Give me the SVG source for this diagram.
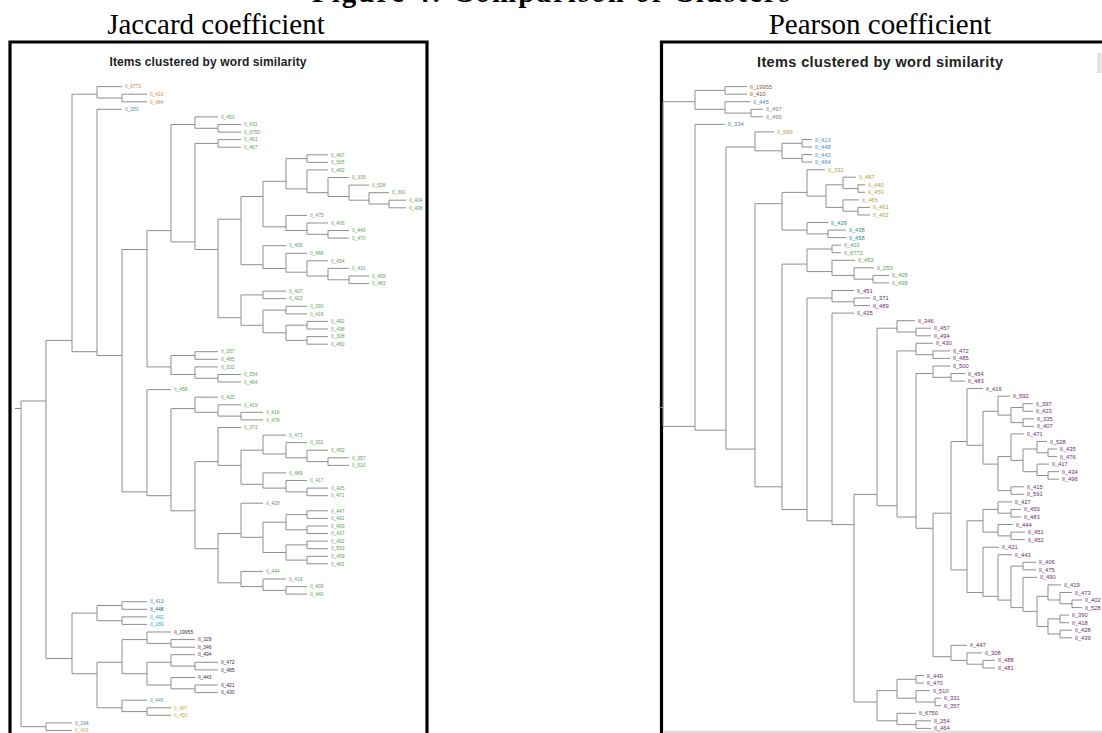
<svg xmlns="http://www.w3.org/2000/svg" width="1102" height="733" viewBox="0 0 1102 733">
<style>
.fig{font-family:"Liberation Serif","Times New Roman",serif;font-size:29px;font-weight:bold;fill:#000}
.cap{font-family:"Liberation Serif","Times New Roman",serif;font-size:29px;fill:#000}
.frame{fill:none;stroke:#000;stroke-width:3.2}
.ttl{font-family:"Liberation Sans",Arial,sans-serif;font-weight:bold;fill:#222}
.ln{fill:none;stroke:#8e8e8e;stroke-width:1}
.lb{font-family:"Liberation Sans",Arial,sans-serif;font-size:5px}
.lr{font-family:"Liberation Sans",Arial,sans-serif;font-size:5.8px}
.or{fill:#c8874e}.te{fill:#3f9aa5}.gr{fill:#66a05f}.bl{fill:#3d7fc0}.nv{fill:#2f4f80}.cy{fill:#34a7d6}
.pu{fill:#4b2350}.lbu{fill:#7090c0}.ye{fill:#c9a846}
.rr{fill:#b0503c}.br{fill:#8c4434}.sb{fill:#3f93d0}.gp{fill:#8a7a9a}.bg2{fill:#5a7fae}.oc{fill:#b8a043}
.tl{fill:#2a8f8f}.gn{fill:#62a05a}.pp{fill:#6e2a6e}
</style>
<rect width="1102" height="733" fill="#fff"/>

<!-- clipped figure heading at the very top edge -->
<text class="fig" x="551" y="1.5" text-anchor="middle" textLength="478">Figure 4: Comparison of Clusters</text>
<text class="cap" x="216" y="34" text-anchor="middle">Jaccard coefficient</text>
<text class="cap" x="880" y="34" text-anchor="middle">Pearson coefficient</text>

<!-- panel frames -->
<path class="frame" d="M10,733V42H427V733"/>
<path class="frame" d="M661.5,733V42H1102"/>
<rect x="663" y="730.5" width="439" height="2.5" fill="#e2e2e2"/>
<rect x="1097" y="53" width="5" height="20" fill="#e4e4e4"/>

<text class="ttl" x="208" y="66" text-anchor="middle" font-size="12" textLength="197">Items clustered by word similarity</text>
<text class="ttl" x="880" y="67" text-anchor="middle" font-size="14.5" textLength="246">Items clustered by word similarity</text>

<!-- Jaccard dendrogram links -->
<g id="jaccard-links" class="ln">
<path d="M15,408.5H21"/>
<path d="M46,401.0H21V726.7H46"/>
<path d="M72,722.9H46V730.5H72"/>
<path d="M72,340.4H46V658.5H72"/>
<path d="M97,94.2H72V351.7H97"/>
<path d="M122,86.6H97V98.0H122"/>
<path d="M147,94.2H122V101.8H147"/>
<path d="M122,109.3H97V355.5H122"/>
<path d="M147,249.5H122V491.9H147"/>
<path d="M171,230.6H147V366.9H171"/>
<path d="M195,124.5H171V241.9H195"/>
<path d="M218,116.9H195V128.3H218"/>
<path d="M241,124.5H218V132.1H241"/>
<path d="M218,143.4H195V249.5H218"/>
<path d="M241,139.6H218V147.2H241"/>
<path d="M241,219.2H218V317.7H241"/>
<path d="M263,196.5H241V264.7H263"/>
<path d="M286,181.3H263V226.8H286"/>
<path d="M307,158.6H286V188.9H307"/>
<path d="M328,154.8H307V162.4H328"/>
<path d="M328,169.9H307V192.7H328"/>
<path d="M349,177.5H328V196.5H349"/>
<path d="M369,185.1H349V200.2H369"/>
<path d="M389,192.7H369V204.0H389"/>
<path d="M406,200.2H389V207.8H406"/>
<path d="M307,215.4H286V230.5H307"/>
<path d="M328,223.0H307V234.3H328"/>
<path d="M349,230.5H328V238.1H349"/>
<path d="M286,245.7H263V268.5H286"/>
<path d="M307,253.3H286V272.2H307"/>
<path d="M328,260.8H307V276.0H328"/>
<path d="M349,268.4H328V279.8H349"/>
<path d="M369,276.0H349V283.6H369"/>
<path d="M263,294.9H241V325.3H263"/>
<path d="M286,291.1H263V298.7H286"/>
<path d="M286,310.1H263V332.8H286"/>
<path d="M307,306.3H286V313.9H307"/>
<path d="M307,325.2H286V340.4H307"/>
<path d="M328,321.4H307V329.0H328"/>
<path d="M328,336.6H307V344.2H328"/>
<path d="M195,355.5H171V374.5H195"/>
<path d="M218,351.7H195V359.3H218"/>
<path d="M218,366.9H195V378.3H218"/>
<path d="M241,374.5H218V382.0H241"/>
<path d="M171,389.6H147V495.7H171"/>
<path d="M195,408.6H171V510.8H195"/>
<path d="M218,397.2H195V412.3H218"/>
<path d="M241,404.8H218V416.1H241"/>
<path d="M263,412.3H241V419.9H263"/>
<path d="M218,461.6H195V548.7H218"/>
<path d="M241,427.5H218V465.4H241"/>
<path d="M263,450.2H241V484.3H263"/>
<path d="M286,435.1H263V454.0H286"/>
<path d="M307,442.6H286V457.8H307"/>
<path d="M328,450.2H307V461.6H328"/>
<path d="M349,457.8H328V465.4H349"/>
<path d="M286,472.9H263V488.1H286"/>
<path d="M307,480.5H286V491.9H307"/>
<path d="M328,488.1H307V495.7H328"/>
<path d="M241,533.5H218V582.8H241"/>
<path d="M263,503.2H241V537.3H263"/>
<path d="M286,522.2H263V552.5H286"/>
<path d="M307,514.6H286V529.8H307"/>
<path d="M328,510.8H307V518.4H328"/>
<path d="M328,526.0H307V533.5H328"/>
<path d="M307,544.9H286V560.1H307"/>
<path d="M328,541.1H307V548.7H328"/>
<path d="M328,556.3H307V563.8H328"/>
<path d="M263,571.4H241V586.6H263"/>
<path d="M286,579.0H263V590.4H286"/>
<path d="M307,586.6H286V594.1H307"/>
<path d="M97,613.1H72V673.7H97"/>
<path d="M122,605.5H97V620.7H122"/>
<path d="M147,601.7H122V609.3H147"/>
<path d="M147,616.9H122V624.4H147"/>
<path d="M122,662.3H97V707.8H122"/>
<path d="M147,639.6H122V673.7H147"/>
<path d="M171,632.0H147V643.4H171"/>
<path d="M195,639.6H171V647.2H195"/>
<path d="M171,662.3H147V685.0H171"/>
<path d="M195,654.7H171V666.1H195"/>
<path d="M218,662.3H195V669.9H218"/>
<path d="M195,677.5H171V688.8H195"/>
<path d="M218,685.0H195V692.6H218"/>
<path d="M147,700.2H122V711.6H147"/>
<path d="M171,707.8H147V715.3H171"/>
</g>

<!-- Jaccard leaves -->
<g id="jaccard-leaves" class="lb" transform="translate(0,1.8)">
<g id="j01"><text class="or" x="125" y="86.6">Il_6772</text></g>
<g id="j02"><text class="or" x="150" y="94.2">Il_410</text></g>
<g id="j03"><text class="or" x="150" y="101.8">Il_484</text></g>
<g id="j04"><text class="te" x="125" y="109.3">Il_253</text></g>
<g id="j05"><text class="gr" x="221" y="116.9">Il_453</text></g>
<g id="j06"><text class="gr" x="244" y="124.5">Il_431</text></g>
<g id="j07"><text class="gr" x="244" y="132.1">Il_6750</text></g>
<g id="j08"><text class="gr" x="244" y="139.6">Il_451</text></g>
<g id="j09"><text class="gr" x="244" y="147.2">Il_467</text></g>
<g id="j10"><text class="gr" x="331" y="154.8">Il_467</text></g>
<g id="j11"><text class="gr" x="331" y="162.4">Il_505</text></g>
<g id="j12"><text class="gr" x="331" y="169.9">Il_482</text></g>
<g id="j13"><text class="gr" x="352" y="177.5">Il_335</text></g>
<g id="j14"><text class="gr" x="372" y="185.1">Il_528</text></g>
<g id="j15"><text class="gr" x="392" y="192.7">Il_391</text></g>
<g id="j16"><text class="gr" x="409" y="200.2">Il_434</text></g>
<g id="j17"><text class="gr" x="409" y="207.8">Il_496</text></g>
<g id="j18"><text class="gr" x="310" y="215.4">Il_475</text></g>
<g id="j19"><text class="gr" x="331" y="223.0">Il_406</text></g>
<g id="j20"><text class="gr" x="352" y="230.5">Il_449</text></g>
<g id="j21"><text class="gr" x="352" y="238.1">Il_470</text></g>
<g id="j22"><text class="gr" x="289" y="245.7">Il_405</text></g>
<g id="j23"><text class="gr" x="310" y="253.3">Il_488</text></g>
<g id="j24"><text class="gr" x="331" y="260.8">Il_454</text></g>
<g id="j25"><text class="gr" x="352" y="268.4">Il_431</text></g>
<g id="j26"><text class="gr" x="372" y="276.0">Il_459</text></g>
<g id="j27"><text class="gr" x="372" y="283.6">Il_483</text></g>
<g id="j28"><text class="gr" x="289" y="291.1">Il_407</text></g>
<g id="j29"><text class="gr" x="289" y="298.7">Il_423</text></g>
<g id="j30"><text class="gr" x="310" y="306.3">Il_390</text></g>
<g id="j31"><text class="gr" x="310" y="313.9">Il_418</text></g>
<g id="j32"><text class="gr" x="331" y="321.4">Il_492</text></g>
<g id="j33"><text class="gr" x="331" y="329.0">Il_498</text></g>
<g id="j34"><text class="gr" x="331" y="336.6">Il_308</text></g>
<g id="j35"><text class="gr" x="331" y="344.2">Il_460</text></g>
<g id="j36"><text class="gr" x="221" y="351.7">Il_267</text></g>
<g id="j37"><text class="gr" x="221" y="359.3">Il_485</text></g>
<g id="j38"><text class="gr" x="221" y="366.9">Il_332</text></g>
<g id="j39"><text class="gr" x="244" y="374.5">Il_254</text></g>
<g id="j40"><text class="gr" x="244" y="382.0">Il_464</text></g>
<g id="j41"><text class="gr" x="174" y="389.6">Il_458</text></g>
<g id="j42"><text class="gr" x="221" y="397.2">Il_425</text></g>
<g id="j43"><text class="gr" x="244" y="404.8">Il_419</text></g>
<g id="j44"><text class="gr" x="266" y="412.3">Il_416</text></g>
<g id="j45"><text class="gr" x="266" y="419.9">Il_478</text></g>
<g id="j46"><text class="gr" x="244" y="427.5">Il_373</text></g>
<g id="j47"><text class="gr" x="289" y="435.1">Il_473</text></g>
<g id="j48"><text class="gr" x="310" y="442.6">Il_331</text></g>
<g id="j49"><text class="gr" x="331" y="450.2">Il_452</text></g>
<g id="j50"><text class="gr" x="352" y="457.8">Il_357</text></g>
<g id="j51"><text class="gr" x="352" y="465.4">Il_510</text></g>
<g id="j52"><text class="gr" x="289" y="472.9">Il_489</text></g>
<g id="j53"><text class="gr" x="310" y="480.5">Il_417</text></g>
<g id="j54"><text class="gr" x="331" y="488.1">Il_425</text></g>
<g id="j55"><text class="gr" x="331" y="495.7">Il_471</text></g>
<g id="j56"><text class="gr" x="266" y="503.2">Il_428</text></g>
<g id="j57"><text class="gr" x="331" y="510.8">Il_447</text></g>
<g id="j58"><text class="gr" x="331" y="518.4">Il_491</text></g>
<g id="j59"><text class="gr" x="331" y="526.0">Il_409</text></g>
<g id="j60"><text class="gr" x="331" y="533.5">Il_437</text></g>
<g id="j61"><text class="gr" x="331" y="541.1">Il_402</text></g>
<g id="j62"><text class="gr" x="331" y="548.7">Il_593</text></g>
<g id="j63"><text class="gr" x="331" y="556.3">Il_459</text></g>
<g id="j64"><text class="gr" x="331" y="563.8">Il_481</text></g>
<g id="j65"><text class="gr" x="266" y="571.4">Il_444</text></g>
<g id="j66"><text class="gr" x="289" y="579.0">Il_416</text></g>
<g id="j67"><text class="gr" x="310" y="586.6">Il_439</text></g>
<g id="j68"><text class="gr" x="310" y="594.1">Il_440</text></g>
<g id="j69"><text class="bl" x="150" y="601.7">Il_413</text></g>
<g id="j70"><text class="nv" x="150" y="609.3">Il_448</text></g>
<g id="j71"><text class="cy" x="150" y="616.9">Il_442</text></g>
<g id="j72"><text class="cy" x="150" y="624.4">Il_289</text></g>
<g id="j73"><text class="pu" x="174" y="632.0">Il_19955</text></g>
<g id="j74"><text class="pu" x="198" y="639.6">Il_329</text></g>
<g id="j75"><text class="pu" x="198" y="647.2">Il_346</text></g>
<g id="j76"><text class="pu" x="198" y="654.7">Il_494</text></g>
<g id="j77"><text class="pu" x="221" y="662.3">Il_472</text></g>
<g id="j78"><text class="pu" x="221" y="669.9">Il_485</text></g>
<g id="j79"><text class="pu" x="198" y="677.5">Il_443</text></g>
<g id="j80"><text class="pu" x="221" y="685.0">Il_421</text></g>
<g id="j81"><text class="pu" x="221" y="692.6">Il_430</text></g>
<g id="j82"><text class="lbu" x="150" y="700.2">Il_445</text></g>
<g id="j83"><text class="ye" x="174" y="707.8">Il_487</text></g>
<g id="j84"><text class="ye" x="174" y="715.3">Il_450</text></g>
<g id="j85"><text class="bl" x="75" y="722.9">Il_334</text></g>
<g id="j86"><text class="ye" x="75" y="730.5">Il_433</text></g>
</g>

<!-- Pearson dendrogram links -->
<g id="pearson-links" class="ln">
<path d="M659,407.5H663"/>
<path d="M695,101.7H663V426.4H695"/>
<path d="M725,90.4H695V109.3H725"/>
<path d="M747,86.6H725V94.2H747"/>
<path d="M750,101.7H725V113.1H751"/>
<path d="M763,109.3H751V116.8H763"/>
<path d="M725,124.4H695V430.2H726"/>
<path d="M755,147.0H726V449.1H755"/>
<path d="M774,131.9H755V150.8H782"/>
<path d="M802,143.3H782V158.4H802"/>
<path d="M812,139.5H802V147.0H812"/>
<path d="M812,154.6H802V162.1H812"/>
<path d="M782,203.7H755V486.8H782"/>
<path d="M807,192.4H782V230.1H807"/>
<path d="M825,169.7H807V196.1H826"/>
<path d="M843,184.8H826V207.4H843"/>
<path d="M856,177.2H843V188.6H858"/>
<path d="M865,184.8H858V192.3H865"/>
<path d="M859,199.9H843V211.2H858"/>
<path d="M870,207.4H858V215.0H870"/>
<path d="M828,222.5H807V233.9H828"/>
<path d="M846,230.1H828V237.6H846"/>
<path d="M807,264.1H782V509.5H807"/>
<path d="M832,249.0H807V271.6H832"/>
<path d="M841,245.2H832V252.7H841"/>
<path d="M855,260.3H832V275.4H854"/>
<path d="M874,267.8H854V279.2H873"/>
<path d="M889,275.4H873V282.9H889"/>
<path d="M832,298.0H807V520.8H832"/>
<path d="M854,290.5H832V301.8H854"/>
<path d="M870,298.0H854V305.6H870"/>
<path d="M854,313.1H832V524.6H854"/>
<path d="M877,494.4H854V702.0H877"/>
<path d="M897,328.2H877V505.7H897"/>
<path d="M915,320.7H897V332.0H916"/>
<path d="M931,328.2H916V335.8H931"/>
<path d="M916,350.9H897V517.0H916"/>
<path d="M933,343.3H916V354.7H933"/>
<path d="M950,350.9H933V358.4H950"/>
<path d="M933,373.5H916V528.3H933"/>
<path d="M950,366.0H933V377.3H951"/>
<path d="M965,373.5H951V381.1H965"/>
<path d="M951,513.2H933V656.7H951"/>
<path d="M967,645.3H951V660.4H967"/>
<path d="M982,652.9H967V664.2H983"/>
<path d="M995,660.4H983V668.0H995"/>
<path d="M967,441.5H951V569.9H967"/>
<path d="M983,388.6H967V445.3H983"/>
<path d="M998,411.3H983V464.1H998"/>
<path d="M1010,396.2H998V415.1H1011"/>
<path d="M1023,407.5H1011V422.6H1023"/>
<path d="M1033,403.7H1023V411.3H1033"/>
<path d="M1034,418.8H1023V426.4H1034"/>
<path d="M1011,456.6H998V490.6H1011"/>
<path d="M1024,433.9H1011V460.4H1023"/>
<path d="M1037,449.0H1023V471.7H1037"/>
<path d="M1047,441.5H1037V452.8H1048"/>
<path d="M1057,449.0H1048V456.6H1057"/>
<path d="M1049,464.1H1037V475.5H1048"/>
<path d="M1059,471.7H1048V479.2H1059"/>
<path d="M1024,486.8H1011V494.3H1024"/>
<path d="M983,520.8H967V592.5H983"/>
<path d="M998,509.4H983V532.1H998"/>
<path d="M1012,501.9H998V513.2H1011"/>
<path d="M1021,509.4H1011V517.0H1021"/>
<path d="M1013,524.5H998V535.9H1011"/>
<path d="M1025,532.1H1011V539.6H1025"/>
<path d="M999,547.2H983V596.3H998"/>
<path d="M1012,554.7H998V600.1H1011"/>
<path d="M1023,566.1H1011V607.6H1023"/>
<path d="M1036,562.3H1023V569.8H1036"/>
<path d="M1037,577.4H1023V611.4H1037"/>
<path d="M1048,596.3H1037V626.5H1048"/>
<path d="M1061,584.9H1048V600.0H1060"/>
<path d="M1072,592.5H1060V603.8H1072"/>
<path d="M1082,600.0H1072V607.6H1082"/>
<path d="M1060,618.9H1048V634.0H1060"/>
<path d="M1069,615.1H1060V622.7H1069"/>
<path d="M1072,630.2H1060V637.8H1072"/>
<path d="M897,690.6H877V720.8H897"/>
<path d="M916,679.3H897V698.2H916"/>
<path d="M924,675.5H916V683.1H924"/>
<path d="M930,690.6H916V702.0H935"/>
<path d="M941,698.2H935V705.7H941"/>
<path d="M916,713.3H897V724.6H916"/>
<path d="M931,720.8H916V728.4H931"/>
</g>

<!-- Pearson leaves -->
<g id="pearson-leaves" class="lr" transform="translate(0,2)">
<g id="p01"><text class="rr" x="750" y="86.6">Il_19955</text></g>
<g id="p02"><text class="br" x="750" y="94.2">Il_410</text></g>
<g id="p03"><text class="sb" x="753" y="101.7">Il_445</text></g>
<g id="p04"><text class="gp" x="766" y="109.3">Il_497</text></g>
<g id="p05"><text class="gp" x="766" y="116.8">Il_495</text></g>
<g id="p06"><text class="bg2" x="728" y="124.4">Il_334</text></g>
<g id="p07"><text class="oc" x="777" y="131.9">Il_589</text></g>
<g id="p08"><text class="sb" x="815" y="139.5">Il_413</text></g>
<g id="p09"><text class="sb" x="815" y="147.0">Il_448</text></g>
<g id="p10"><text class="sb" x="815" y="154.6">Il_442</text></g>
<g id="p11"><text class="sb" x="815" y="162.1">Il_484</text></g>
<g id="p12"><text class="oc" x="828" y="169.7">Il_332</text></g>
<g id="p13"><text class="oc" x="859" y="177.2">Il_487</text></g>
<g id="p14"><text class="oc" x="868" y="184.8">Il_440</text></g>
<g id="p15"><text class="oc" x="868" y="192.3">Il_450</text></g>
<g id="p16"><text class="oc" x="862" y="199.9">Il_465</text></g>
<g id="p17"><text class="oc" x="873" y="207.4">Il_461</text></g>
<g id="p18"><text class="oc" x="873" y="215.0">Il_462</text></g>
<g id="p19"><text class="tl" x="831" y="222.5">Il_429</text></g>
<g id="p20"><text class="tl" x="849" y="230.1">Il_438</text></g>
<g id="p21"><text class="tl" x="849" y="237.6">Il_458</text></g>
<g id="p22"><text class="gn" x="844" y="245.2">Il_403</text></g>
<g id="p23"><text class="gn" x="844" y="252.7">Il_6772</text></g>
<g id="p24"><text class="gn" x="858" y="260.3">Il_453</text></g>
<g id="p25"><text class="gn" x="877" y="267.8">Il_253</text></g>
<g id="p26"><text class="gn" x="892" y="275.4">Il_405</text></g>
<g id="p27"><text class="gn" x="892" y="282.9">Il_499</text></g>
<g id="p28"><text class="pp" x="857" y="290.5">Il_451</text></g>
<g id="p29"><text class="pp" x="873" y="298.0">Il_371</text></g>
<g id="p30"><text class="pp" x="873" y="305.6">Il_489</text></g>
<g id="p31"><text class="pp" x="857" y="313.1">Il_425</text></g>
<g id="p32"><text class="pp" x="918" y="320.7">Il_346</text></g>
<g id="p33"><text class="pp" x="934" y="328.2">Il_457</text></g>
<g id="p34"><text class="pp" x="934" y="335.8">Il_494</text></g>
<g id="p35"><text class="pp" x="936" y="343.3">Il_430</text></g>
<g id="p36"><text class="pp" x="953" y="350.9">Il_472</text></g>
<g id="p37"><text class="pp" x="953" y="358.4">Il_485</text></g>
<g id="p38"><text class="pp" x="953" y="366.0">Il_500</text></g>
<g id="p39"><text class="pp" x="968" y="373.5">Il_454</text></g>
<g id="p40"><text class="pp" x="968" y="381.1">Il_483</text></g>
<g id="p41"><text class="pp" x="986" y="388.6">Il_416</text></g>
<g id="p42"><text class="pp" x="1013" y="396.2">Il_592</text></g>
<g id="p43"><text class="pp" x="1036" y="403.7">Il_397</text></g>
<g id="p44"><text class="pp" x="1036" y="411.3">Il_423</text></g>
<g id="p45"><text class="pp" x="1037" y="418.8">Il_335</text></g>
<g id="p46"><text class="pp" x="1037" y="426.4">Il_407</text></g>
<g id="p47"><text class="pp" x="1027" y="433.9">Il_471</text></g>
<g id="p48"><text class="pp" x="1050" y="441.5">Il_528</text></g>
<g id="p49"><text class="pp" x="1060" y="449.0">Il_435</text></g>
<g id="p50"><text class="pp" x="1060" y="456.6">Il_476</text></g>
<g id="p51"><text class="pp" x="1052" y="464.1">Il_417</text></g>
<g id="p52"><text class="pp" x="1062" y="471.7">Il_434</text></g>
<g id="p53"><text class="pp" x="1062" y="479.2">Il_496</text></g>
<g id="p54"><text class="pp" x="1027" y="486.8">Il_415</text></g>
<g id="p55"><text class="pp" x="1027" y="494.3">Il_591</text></g>
<g id="p56"><text class="pp" x="1015" y="501.9">Il_427</text></g>
<g id="p57"><text class="pp" x="1024" y="509.4">Il_459</text></g>
<g id="p58"><text class="pp" x="1024" y="517.0">Il_483</text></g>
<g id="p59"><text class="pp" x="1016" y="524.5">Il_444</text></g>
<g id="p60"><text class="pp" x="1028" y="532.1">Il_451</text></g>
<g id="p61"><text class="pp" x="1028" y="539.6">Il_452</text></g>
<g id="p62"><text class="pp" x="1002" y="547.2">Il_421</text></g>
<g id="p63"><text class="pp" x="1015" y="554.7">Il_443</text></g>
<g id="p64"><text class="pp" x="1039" y="562.3">Il_406</text></g>
<g id="p65"><text class="pp" x="1039" y="569.8">Il_475</text></g>
<g id="p66"><text class="pp" x="1040" y="577.4">Il_490</text></g>
<g id="p67"><text class="pp" x="1064" y="584.9">Il_419</text></g>
<g id="p68"><text class="pp" x="1075" y="592.5">Il_473</text></g>
<g id="p69"><text class="pp" x="1085" y="600.0">Il_402</text></g>
<g id="p70"><text class="pp" x="1085" y="607.6">Il_528</text></g>
<g id="p71"><text class="pp" x="1072" y="615.1">Il_390</text></g>
<g id="p72"><text class="pp" x="1072" y="622.7">Il_418</text></g>
<g id="p73"><text class="pp" x="1075" y="630.2">Il_428</text></g>
<g id="p74"><text class="pp" x="1075" y="637.8">Il_439</text></g>
<g id="p75"><text class="pp" x="970" y="645.3">Il_447</text></g>
<g id="p76"><text class="pp" x="985" y="652.9">Il_308</text></g>
<g id="p77"><text class="pp" x="998" y="660.4">Il_488</text></g>
<g id="p78"><text class="pp" x="998" y="668.0">Il_481</text></g>
<g id="p79"><text class="pp" x="927" y="675.5">Il_449</text></g>
<g id="p80"><text class="pp" x="927" y="683.1">Il_470</text></g>
<g id="p81"><text class="pp" x="933" y="690.6">Il_510</text></g>
<g id="p82"><text class="pp" x="944" y="698.2">Il_331</text></g>
<g id="p83"><text class="pp" x="944" y="705.7">Il_357</text></g>
<g id="p84"><text class="pp" x="919" y="713.3">Il_6750</text></g>
<g id="p85"><text class="pp" x="934" y="720.8">Il_254</text></g>
<g id="p86"><text class="pp" x="934" y="728.4">Il_464</text></g>
</g>
</svg>
